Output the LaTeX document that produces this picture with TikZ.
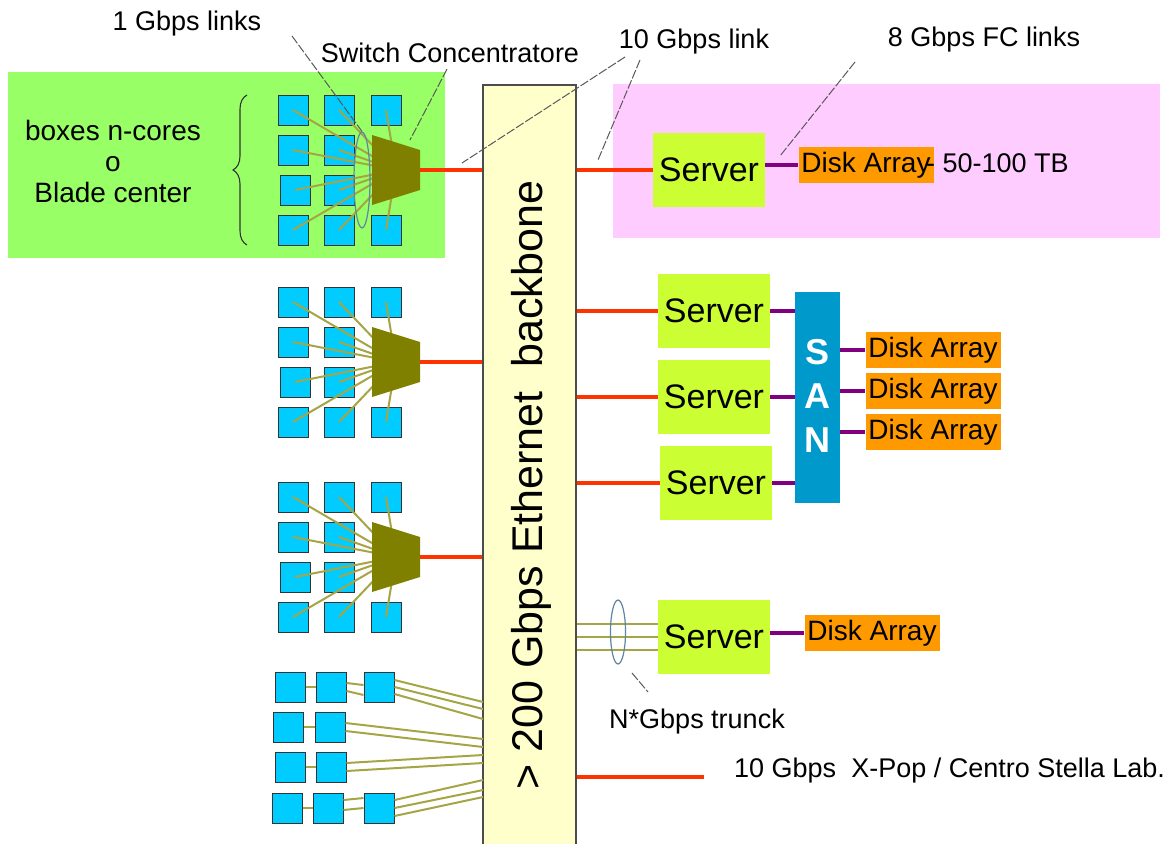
\documentclass[tikz,border=0pt]{standalone}
\usepackage{fontspec}
\setmainfont{Liberation Sans}
\usetikzlibrary{calc,shapes.geometric,decorations.pathreplacing}

\definecolor{boxgreen}{HTML}{99FF66}
\definecolor{boxpink}{HTML}{FFCCFF}
\definecolor{bbyellow}{HTML}{FFFFCC}
\definecolor{cpucyan}{HTML}{00CCFF}
\definecolor{swolive}{HTML}{808000}
\definecolor{wireolive}{HTML}{A5A545}
\definecolor{ethred}{HTML}{FF3300}
\definecolor{fcpurple}{HTML}{800080}
\definecolor{srvlime}{HTML}{CCFF33}
\definecolor{diskorange}{HTML}{FF9900}
\definecolor{sanblue}{HTML}{0099CC}
\definecolor{ringblue}{HTML}{5F86A3}

\tikzset{
  lbl/.style={font=\fontsize{27}{31}\selectfont, inner sep=0pt},
  cpu/.style={draw=black!80, fill=cpucyan, line width=1pt, minimum size=30pt, inner sep=0pt},
  wire/.style={draw=wireolive, line width=2pt},
  eth/.style={draw=ethred, line width=4pt},
  fc/.style={draw=fcpurple, line width=4pt},
  server/.style={fill=srvlime, minimum width=112pt, minimum height=74pt, inner sep=0pt, font=\fontsize{34}{38}\selectfont},
  disk/.style={fill=diskorange, minimum width=135pt, minimum height=36pt, inner sep=0pt, font=\fontsize{28}{30}\selectfont},
  leader/.style={draw=black!65, line width=1pt, dash pattern=on 9pt off 2pt},
  ring/.style={draw=ringblue, line width=1.2pt, ellipse, inner sep=0pt},
}

\begin{document}
\begin{tikzpicture}[x=1pt,y=-1pt]
\useasboundingbox (0,0) rectangle (1172,843);
\fill[white] (0,0) rectangle (1172,843);

% shaded areas behind rack 1 and the first server
\fill[boxgreen] (8,72) rectangle (445,258);
\fill[boxpink] (613,84) rectangle (1160,238);

% the backbone
\node[draw=black!70, fill=bbyellow, line width=1.5pt, minimum width=93pt, minimum height=770pt, inner sep=0pt] (bb) at (529.5,470) {};
\node[rotate=90, font=\fontsize{43}{45}\selectfont] (bbtxt) at (531,485) {> 200 Gbps Ethernet\ \ backbone};

% racks with a switch
\foreach \r/\dy in {1/0,2/192,3/387}{
  \foreach \i/\x/\cy in {1/293/110,2/339/110,3/386/110,4/293/150,5/339/150,6/295/190,7/339/190,8/293/230,9/339/230,10/386/230}
    \node[cpu] (q\r-\i) at (\x,\dy+\cy) {};
  \coordinate (sw\r) at (396,\dy+170);
  \foreach \i in {1,...,10}
    \draw[wire] (q\r-\i.center) -- (sw\r);
  \fill[swolive] (372,\dy+135) -- (420,\dy+150) -- (420,\dy+190) -- (372,\dy+205) -- cycle;
  \coordinate (swo\r) at (420,\dy+170);
  \draw[eth] (swo\r) -- (bb.west |- swo\r);
}
\node[ring, minimum width=16pt, minimum height=96pt] (ring1) at (362,180) {};
\coordinate (swtop1) at (410,140);

% rack wired straight to the backbone
\foreach \i/\x/\cy in {1/290/687,2/331/687,3/379/687,4/288/727,5/330/727,6/290/767,7/331/767,8/287/808,9/328/808,10/379/808}
  \node[cpu] (p\i) at (\x,\cy) {};
\foreach \t/\ty in {1/702,2/709,3/719,4/739,5/747,6/755,7/763,8/780,9/790,10/797}
  \coordinate (tap\t) at (483,\ty);
\draw[wire] (p1.east) -- (p2.west);
\draw[wire] (p4.east) -- (p5.west);
\draw[wire] (p6.east) -- (p7.west);
\draw[wire] (p8.east) -- (p9.west);
\draw[wire] ($(p2.east)+(0,-4)$) -- ($(p3.west)+(0,-2)$);
\draw[wire] ($(p2.east)+(0,4)$) -- ($(p3.west)+(0,8)$);
\draw[wire] ($(p9.east)+(0,-8)$) -- ($(p10.west)+(0,-10)$);
\draw[wire] ($(p9.east)+(0,2)$) -- ($(p10.west)+(0,0)$);
\draw[wire] ($(p3.east)+(0,-7)$) -- (tap1);
\draw[wire] ($(p3.east)+(0,0)$) -- (tap2);
\draw[wire] ($(p3.east)+(0,7)$) -- (tap3);
\draw[wire] ($(p5.east)+(0,-4)$) -- (tap4);
\draw[wire] ($(p5.east)+(0,4)$) -- (tap5);
\draw[wire] ($(p7.east)+(0,-4)$) -- (tap6);
\draw[wire] ($(p7.east)+(0,4)$) -- (tap7);
\draw[wire] ($(p10.east)+(0,-8)$) -- (tap8);
\draw[wire] ($(p10.east)+(0,0)$) -- (tap9);
\draw[wire] ($(p10.east)+(0,8)$) -- (tap10);

% servers and storage
\node[server] (s1) at (709,170) {Server};
\node[server] (s2) at (714,311) {Server};
\node[server] (s3) at (714,397) {Server};
\node[server] (s4) at (716,483) {Server};
\node[server] (s5) at (714,637) {Server};

\node[disk] (d1) at (866,165) {Disk Array};
\node[lbl, anchor=west] (cap1) at (926,163) {- 50-100 TB};
\node[disk] (d2) at (933,350) {Disk Array};
\node[disk] (d3) at (933,391) {Disk Array};
\node[disk] (d4) at (933,432) {Disk Array};
\node[disk] (d5) at (872,633) {Disk Array};

\node[fill=sanblue, minimum width=45pt, minimum height=211pt, inner sep=0pt] (san) at (817.5,397.5) {};
\node[font=\bfseries\fontsize{36}{44}\selectfont, text=white, align=center] (santxt) at (817.5,396) {S\\A\\N};

% 10 Gbps links
\draw[eth] (bb.east |- s1.west) -- (s1.west);
\draw[eth] (bb.east |- s2.west) -- (s2.west);
\draw[eth] (bb.east |- s3.west) -- (s3.west);
\draw[eth] (bb.east |- s4.west) -- (s4.west);

% FC links
\draw[fc] (s1.east |- d1.west) -- (d1.west);
\draw[fc] (s2.east) -- (san.west |- s2.east);
\draw[fc] (s3.east) -- (san.west |- s3.east);
\draw[fc] (s4.east) -- (san.west |- s4.east);
\draw[fc] (san.east |- d2.west) -- (d2.west);
\draw[fc] (san.east |- d3.west) -- (d3.west);
\draw[fc] (san.east |- d4.west) -- (d4.west);
\draw[fc] (s5.east |- d5.west) -- (d5.west);

% trunk to the last server
\foreach \k in {-13,0,13}
  \draw[wire] ($(bb.east |- s5.west)+(0,\k)$) -- ($(s5.west)+(0,\k)$);
\node[ring, minimum width=15pt, minimum height=64pt] (ring5) at (618,632) {};

% link out to X-Pop
\coordinate (xend) at (704,777);
\draw[eth] (bb.east |- xend) -- (xend);
\node[lbl, anchor=west] (xpop) at (734,771) {10 Gbps\ \ X-Pop / Centro Stella Lab.};

% labels
\node[lbl] (l1g) at (187,24) {1 Gbps links};
\node[lbl] (lsw) at (450,53) {Switch Concentratore};
\node[lbl] (l10g) at (694,42) {10 Gbps link};
\node[lbl] (l8g) at (984,40) {8 Gbps FC links};
\node[lbl] (ltr) at (697,722) {N*Gbps trunck};
\node[lbl, align=center, font=\fontsize{28}{31}\selectfont] (lbox) at (113,161) {boxes n-cores\\o\\Blade center};
\draw[decorate, decoration={brace, amplitude=14pt}, line width=1.1pt, draw=black!80] (247,245) -- (247,95);

% leader lines
\coordinate (lk1) at (462,163);
\coordinate (lk2) at (598,160);
\coordinate (lk3) at (780,156);
\coordinate (lk4) at (648,692);
\draw[leader] (292,36) -- (ring1.north);
\draw[leader] ($(lsw.south)+(-3,6)$) -- (swtop1);
\draw[leader] (625,57) -- (lk1);
\draw[leader] (640,60) -- (lk2);
\draw[leader] (855,62) -- (lk3);
\draw[leader] (632,673) -- (lk4);
\end{tikzpicture}
\end{document}
